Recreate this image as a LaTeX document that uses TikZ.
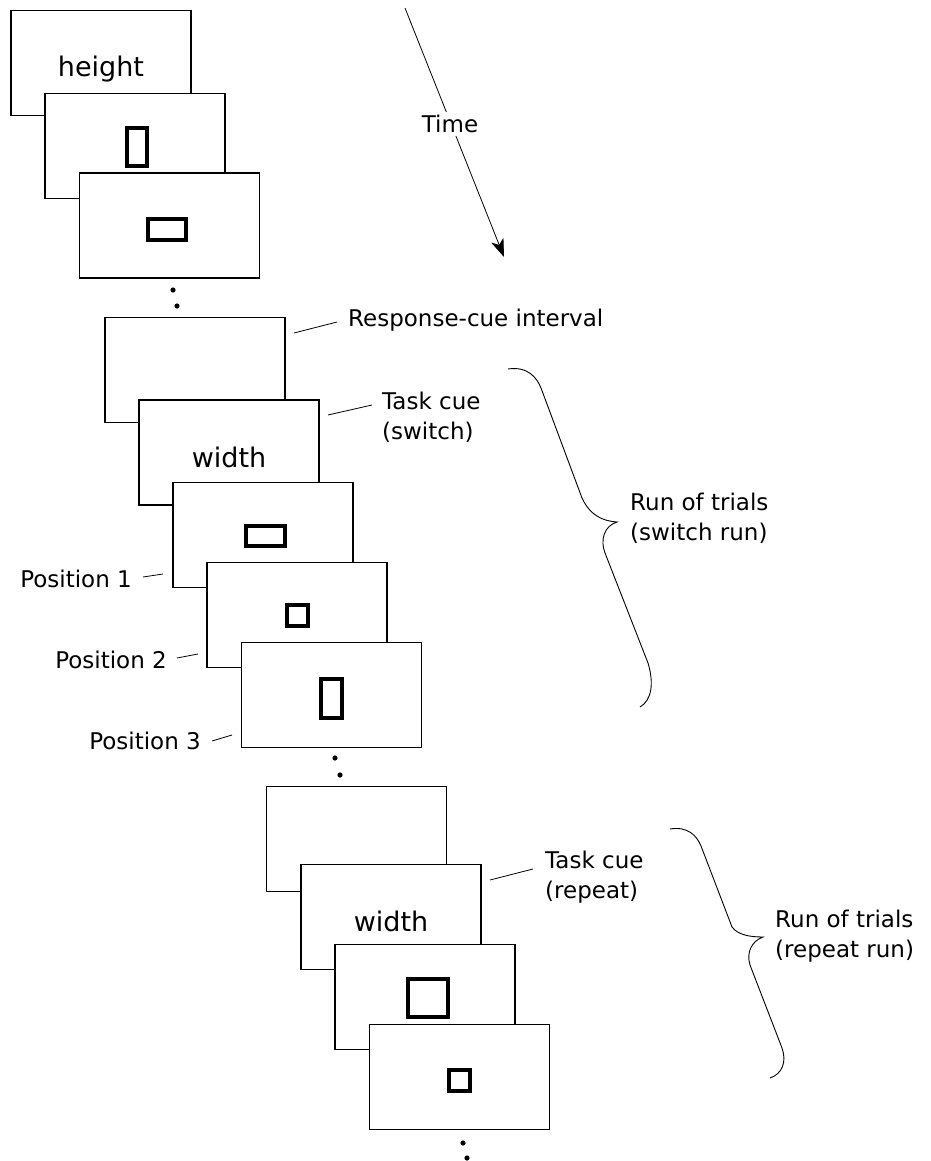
\documentclass[tikz,border=0pt]{standalone}
\usepackage{fontspec}
\setmainfont{DejaVu Sans}
\usetikzlibrary{arrows.meta, calc}

\tikzset{
  screen/.style={draw, line width=1.3pt, fill=white, minimum width=180pt, minimum height=105pt, inner sep=0pt},
  stim/.style={draw, line width=4pt, inner sep=0pt},
  word/.style={font=\fontsize{27}{30}\selectfont},
  lbl/.style={font=\fontsize{23}{30}\selectfont, align=left, inner sep=0pt},
  leader/.style={line width=0.8pt},
  brace/.style={line width=0.9pt},
}

\begin{document}
\begin{tikzpicture}[x=1pt, y=-1pt]
\useasboundingbox (0,0) rectangle (930,1161);

% screens, back to front
\foreach \n/\x/\y in {1/101/63, 2/135/146, 3/169.5/225.5,
    4/195/370, 5/229/452.5, 6/263/535, 7/297/615, 8/331.5/695,
    9/356.5/839, 10/391/917, 11/425/997, 12/459.5/1077}
  \node[screen] (s\n) at (\x,\y) {};

% cues and stimuli
\node[word] (cue1) at ($(s1.center)+(0,6)$) {height};
\node[word] (cue2) at ($(s5.center)+(0,5)$) {width};
\node[word] (cue3) at ($(s10.center)+(0,4)$) {width};
\node[stim, minimum width=20pt, minimum height=38pt] (st2) at (137,147) {};
\node[stim, minimum width=38pt, minimum height=21pt] (st3) at (167,229.5) {};
\node[stim, minimum width=39pt, minimum height=20pt] (st6) at (265.5,535.7) {};
\node[stim, minimum width=21pt, minimum height=21pt] (st7) at (297.5,615.5) {};
\node[stim, minimum width=21pt, minimum height=39pt] (st8) at (331.5,698) {};
\node[stim, minimum width=40pt, minimum height=38pt] (st11) at (428,998) {};
\node[stim, minimum width=21pt, minimum height=21pt] (st12) at (459.5,1080.5) {};

% dots between blocks
\fill (173,290) circle (2.6pt) (177,306) circle (2.6pt);
\fill (335,758) circle (2.6pt) (340,775) circle (2.6pt);
\fill (463,1143) circle (2.6pt) (467,1158) circle (2.6pt);

% time arrow
\coordinate (t0) at (405,8);
\coordinate (t1) at (504,257);
\draw[line width=0.8pt, -{Stealth[length=18pt, width=13pt, inset=5pt]}] (t0) -- (t1);
\node[lbl, fill=white, inner sep=3pt] (time) at (450,124) {Time};

% labels
\node[lbl, anchor=west] (rci) at (348,320) {Response-cue interval};
\node[lbl, anchor=west] (tcs) at (382,417) {Task cue\\(switch)};
\node[lbl, anchor=east] (p1) at (132,579) {Position 1};
\node[lbl, anchor=east] (p2) at (167,660) {Position 2};
\node[lbl, anchor=east] (p3) at (201,741) {Position 3};
\node[lbl, anchor=west] (tcr) at (545,877) {Task cue\\(repeat)};
\node[lbl, anchor=west] (runs) at (630,518) {Run of trials\\(switch run)};
\node[lbl, anchor=west] (runr) at (775,936) {Run of trials\\(repeat run)};

% leaders
\coordinate (l1a) at (294,333); \coordinate (l1b) at (337,322);
\coordinate (l2a) at (328,415); \coordinate (l2b) at (372,405);
\coordinate (l3a) at (143,577); \coordinate (l3b) at (163,574);
\coordinate (l4a) at (177,658); \coordinate (l4b) at (198,654);
\coordinate (l5a) at (212,741); \coordinate (l5b) at (232,735);
\coordinate (l6a) at (490,880); \coordinate (l6b) at (533,869);
\foreach \k in {1,...,6}
  \draw[leader] (l\k a) -- (l\k b);

% braces
\draw[brace] (508,369) .. controls (528,366) and (537,378) .. (541,388)
  -- (582,498) .. controls (590,515) and (602,521) .. (617,522)
  .. controls (604,526) and (600,540) .. (605,553)
  -- (648,663) .. controls (654,683) and (652,700) .. (640,707);
\draw[brace] (670,829) .. controls (688,826) and (697,836) .. (701,846)
  -- (732,927) .. controls (738,935) and (750,937) .. (763,937)
  .. controls (752,941) and (746,952) .. (750,965)
  -- (782,1048) .. controls (787,1062) and (782,1074) .. (770,1078);
\end{tikzpicture}
\end{document}
